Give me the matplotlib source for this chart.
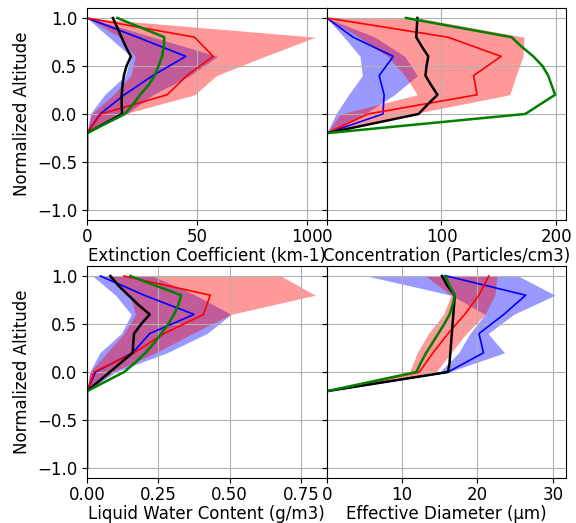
import matplotlib
matplotlib.use('Agg')
import matplotlib.pyplot as plt

# altitude levels (observations every 0.2, model every 0.1)
alt_obs = [1.0, 0.8, 0.6, 0.4, 0.2, 0.0, -0.2, -0.4, -0.6, -0.8, -1.0]
alt_mod = [1.0, 0.9, 0.8, 0.7, 0.6, 0.5, 0.4, 0.3, 0.2, 0.1, 0.0, -0.2, -0.4, -0.6, -0.8, -1.0]
z4 = [0, 0, 0, 0]

# extinction coefficient
ext_red = [0, 49, 57.5, 45.5, 36.5, 6.4, 0] + z4
ext_red_lo = [0, 15, 22, 20, 12, 2, 0] + z4
ext_red_hi = [0, 104, 81, 59, 49, 17, 0] + z4
ext_blue = [0, 23, 45, 30, 17, 6, 0] + z4
ext_blue_lo = [0, 10, 20, 17.5, 8, 1.5, 0] + z4
ext_blue_hi = [1, 30, 59.5, 47, 30, 18, 0] + z4
ext_black = [11.8, 13.8, 15.7, 17.7, 20, 18, 16.8, 16.2, 15.8, 15.8, 16, 0] + z4
ext_green = [13.8, 24.5, 35.2, 35, 34.2, 32.6, 30.8, 28, 24.2, 21, 17.2, 0] + z4

# concentration
con_red = [0, 105.5, 152, 128, 131, 36, 0] + z4
con_red_lo = [0, 28, 53, 68, 79, 12, 0] + z4
con_red_hi = [80, 172, 171, 165, 159.5, 75, 0] + z4
con_blue = [0, 23, 58, 45.7, 50, 49, 0] + z4
con_blue_lo = [0, 15, 29, 31, 19, 8, 0] + z4
con_blue_hi = [0, 42, 68, 79, 59, 33, 0] + z4
con_black = [79, 78.5, 78, 83, 88.5, 87, 86, 91, 96.5, 88, 80, 0] + z4
con_green = [69, 115, 161, 170, 180, 188, 193, 196, 199, 186, 173, 0] + z4

# liquid water content
lwc_red = [0.129, 0.432, 0.408, 0.27, 0.165, 0.025, 0] + z4
lwc_red_lo = [0.07, 0.15, 0.17, 0.13, 0.07, 0.01, 0] + z4
lwc_red_hi = [0.68, 0.80, 0.505, 0.37, 0.24, 0.09, 0] + z4
lwc_blue = [0.047, 0.2, 0.375, 0.22, 0.16, 0.03, 0] + z4
lwc_blue_lo = [0.02, 0.1, 0.155, 0.12, 0.045, 0.01, 0] + z4
lwc_blue_hi = [0.23, 0.38, 0.505, 0.42, 0.28, 0.1, 0] + z4
lwc_black = [0.082, 0.11, 0.145, 0.18, 0.22, 0.19, 0.165, 0.162, 0.16, 0.12, 0.08, 0] + z4
lwc_green = [0.152, 0.24, 0.33, 0.32, 0.305, 0.285, 0.26, 0.235, 0.205, 0.17, 0.13, 0] + z4

# effective diameter
dia_red = [21.5, 20.2, 18.3, 16.1, 14.1, 12.3, 0] + z4
dia_red_lo = [13.1, 16.5, 15.5, 13.5, 12, 11, 0] + z4
dia_red_hi = [22.6, 22.3, 21, 18.5, 16.5, 14.5, 0] + z4
dia_blue = [15.9, 26.4, 23.5, 20.2, 20.8, 16.1, 0] + z4
dia_blue_lo = [5.3, 16.5, 21, 19, 17.5, 15, 0] + z4
dia_blue_hi = [25.4, 30.3, 24.8, 21.4, 23.6, 16.2, 0] + z4
dia_black = [15.3, 16, 17, 16.9, 16.8, 16.7, 16.6, 16.5, 16.4, 16.3, 16.1, 0] + z4
dia_green = [15.7, 16.3, 17, 16.7, 16.3, 15.6, 14.8, 14, 13.2, 12.5, 11.9, 0] + z4

panels = [
	('Extinction Coefficient (km-1)', ext_red, ext_red_lo, ext_red_hi, ext_blue, ext_blue_lo, ext_blue_hi, ext_black, ext_green),
	('Concentration (Particles/cm3)', con_red, con_red_lo, con_red_hi, con_blue, con_blue_lo, con_blue_hi, con_black, con_green),
	('Liquid Water Content (g/m3)', lwc_red, lwc_red_lo, lwc_red_hi, lwc_blue, lwc_blue_lo, lwc_blue_hi, lwc_black, lwc_green),
	('Effective Diameter (\u00b5m)', dia_red, dia_red_lo, dia_red_hi, dia_blue, dia_blue_lo, dia_blue_hi, dia_black, dia_green),
]

plt.rcParams['font.size'] = 12
plt.rcParams['xtick.major.pad'] = 2.5
fig, axes = plt.subplots(2, 2, sharey=True, figsize=(5.76, 5.23), dpi=100)
fig.subplots_adjust(left=0.151, right=0.9835, top=0.984, bottom=0.0868, hspace=0.2216, wspace=0)

for ax, (label, red, red_lo, red_hi, blue, blue_lo, blue_hi, black, green) in zip(axes.flat, panels):
	ax.fill_betweenx(alt_obs, blue_lo, blue_hi, color='b', alpha=0.4, linewidth=0)
	ax.fill_betweenx(alt_obs, red_lo, red_hi, color='r', alpha=0.4, linewidth=0)
	ax.plot(blue, alt_obs, color='b', linewidth=1.2)
	ax.plot(red, alt_obs, color='r', linewidth=1.2)
	ax.plot(black, alt_mod, color='k', linewidth=1.8)
	ax.plot(green, alt_mod, color='g', linewidth=1.8)
	ax.grid(True)
	ax.set_xlabel(label, labelpad=1)

axes[0, 0].set_ylabel('Normalized Altitude')
axes[1, 0].set_ylabel('Normalized Altitude')
axes[0, 0].set_xticks([0, 50, 100])
axes[0, 1].set_xticks([0, 100, 200])
axes[1, 0].set_xticks([0.0, 0.25, 0.5, 0.75])
axes[1, 1].set_xticks([0, 10, 20, 30])
for ax in axes.flat:
	ax.set_xlim(left=0)

fig.savefig('out.png', dpi=100)
